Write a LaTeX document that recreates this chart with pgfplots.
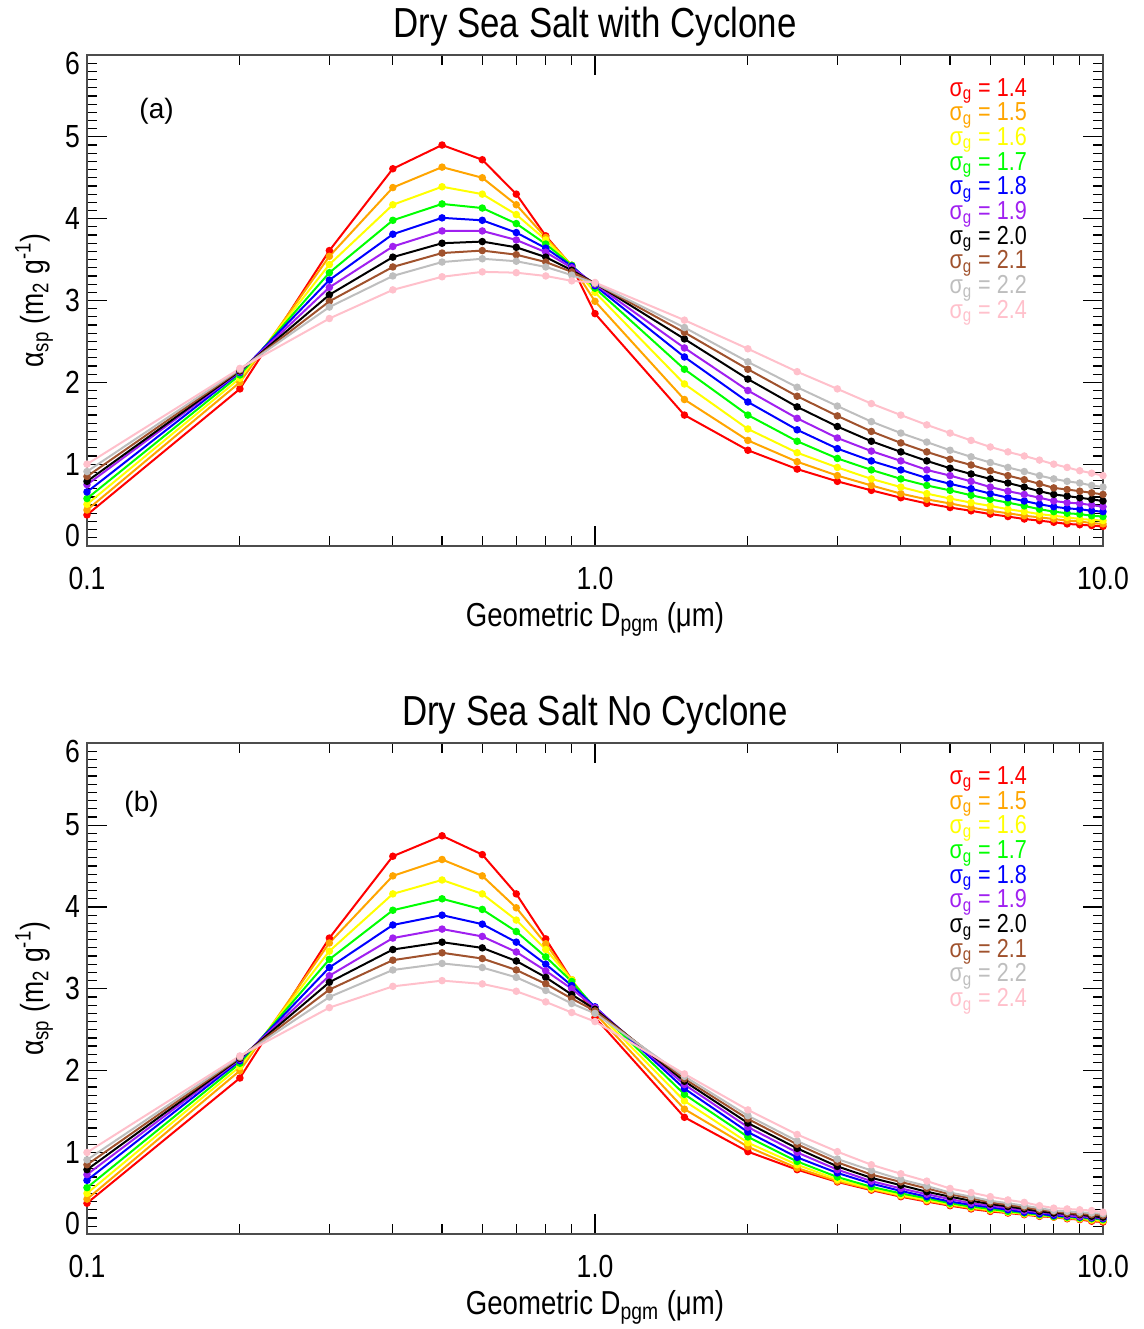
\documentclass[border=0pt]{standalone}
\usepackage{fontspec}
\setmainfont{Liberation Sans}[FakeStretch=0.83]
\newfontfamily\plainfont{Liberation Sans}
\usepackage{pgfplots}
\usepackage{pgfplotstable}
\pgfplotsset{compat=1.18}

\definecolor{c14}{RGB}{255,0,0}
\definecolor{c15}{RGB}{255,165,0}
\definecolor{c16}{RGB}{255,255,0}
\definecolor{c17}{RGB}{0,255,0}
\definecolor{c18}{RGB}{0,0,255}
\definecolor{c19}{RGB}{160,32,240}
\definecolor{c20}{RGB}{0,0,0}
\definecolor{c21}{RGB}{160,82,45}
\definecolor{c22}{RGB}{190,190,190}
\definecolor{c24}{RGB}{255,192,203}

\pgfplotstableread{
x    s14  s15  s16  s17  s18  s19  s20  s21  s22  s24
0.1  0.38 0.44 0.51 0.58 0.66 0.75 0.79 0.85 0.91 1.00
0.2  1.92 2.00 2.05 2.09 2.12 2.13 2.14 2.15 2.16 2.17
0.3  3.61 3.54 3.44 3.34 3.25 3.16 3.07 2.99 2.92 2.78
0.4  4.61 4.38 4.17 3.98 3.81 3.66 3.53 3.41 3.30 3.13
0.5  4.90 4.63 4.39 4.18 4.01 3.85 3.70 3.58 3.47 3.29
0.6  4.72 4.50 4.30 4.13 3.98 3.85 3.72 3.61 3.51 3.35
0.7  4.30 4.17 4.05 3.94 3.83 3.74 3.65 3.56 3.48 3.34
0.8  3.79 3.77 3.74 3.69 3.64 3.59 3.53 3.47 3.41 3.30
0.9  3.42 3.43 3.43 3.43 3.42 3.40 3.37 3.35 3.31 3.24
1.0  2.84 2.99 3.10 3.15 3.18 3.20 3.21 3.21 3.21 3.22
1.5  1.60 1.79 1.98 2.16 2.31 2.42 2.53 2.61 2.67 2.76
2.0  1.17 1.29 1.43 1.60 1.76 1.90 2.04 2.16 2.25 2.41
2.5  0.94 1.03 1.14 1.28 1.42 1.56 1.70 1.83 1.94 2.13
3.0  0.79 0.86 0.96 1.07 1.19 1.32 1.46 1.59 1.71 1.92
3.5  0.68 0.74 0.82 0.93 1.04 1.16 1.28 1.40 1.52 1.74
4.0  0.59 0.64 0.72 0.82 0.93 1.04 1.15 1.26 1.38 1.60
4.5  0.52 0.57 0.64 0.74 0.83 0.93 1.04 1.15 1.27 1.48
5.0  0.47 0.52 0.58 0.68 0.76 0.86 0.95 1.06 1.17 1.38
5.5  0.43 0.47 0.53 0.62 0.70 0.79 0.88 0.99 1.09 1.29
6.0  0.39 0.43 0.49 0.57 0.64 0.72 0.82 0.92 1.02 1.21
6.5  0.36 0.40 0.45 0.53 0.59 0.67 0.77 0.86 0.96 1.15
7.0  0.33 0.37 0.42 0.49 0.55 0.63 0.72 0.81 0.91 1.10
7.5  0.31 0.35 0.39 0.45 0.51 0.59 0.67 0.76 0.86 1.05
8.0  0.29 0.33 0.37 0.42 0.48 0.55 0.63 0.71 0.82 1.00
8.5  0.27 0.31 0.35 0.40 0.46 0.53 0.61 0.69 0.79 0.96
9.0  0.26 0.30 0.33 0.39 0.45 0.52 0.59 0.67 0.77 0.92
9.5  0.25 0.28 0.32 0.37 0.43 0.50 0.57 0.65 0.74 0.89
10.0 0.24 0.27 0.31 0.36 0.42 0.48 0.55 0.63 0.72 0.86
}\topdata

\pgfplotstableread{
x    s14  s15  s16  s17  s18  s19  s20  s21  s22  s24
0.1  0.38 0.43 0.50 0.57 0.66 0.73 0.79 0.85 0.91 1.00
0.2  1.91 2.00 2.05 2.09 2.12 2.14 2.15 2.16 2.17 2.18
0.3  3.62 3.56 3.46 3.36 3.26 3.16 3.08 2.99 2.90 2.77
0.4  4.62 4.38 4.16 3.96 3.78 3.62 3.48 3.35 3.23 3.03
0.5  4.87 4.58 4.33 4.10 3.90 3.73 3.57 3.44 3.31 3.10
0.6  4.64 4.38 4.16 3.97 3.79 3.64 3.50 3.37 3.26 3.06
0.7  4.16 3.99 3.84 3.70 3.57 3.45 3.34 3.23 3.14 2.97
0.8  3.61 3.55 3.48 3.39 3.30 3.22 3.14 3.06 2.98 2.84
0.9  3.11 3.11 3.11 3.09 3.04 3.00 2.93 2.88 2.82 2.71
1.0  2.65 2.70 2.74 2.77 2.78 2.77 2.75 2.73 2.70 2.60
1.5  1.43 1.53 1.63 1.71 1.78 1.83 1.87 1.90 1.93 1.96
2.0  1.01 1.07 1.12 1.19 1.25 1.31 1.36 1.41 1.45 1.52
2.5  0.79 0.81 0.85 0.89 0.94 1.00 1.05 1.10 1.14 1.22
3.0  0.64 0.65 0.67 0.70 0.75 0.79 0.83 0.88 0.92 1.01
3.5  0.54 0.55 0.56 0.58 0.62 0.65 0.69 0.73 0.78 0.85
4.0  0.46 0.47 0.48 0.50 0.53 0.56 0.60 0.64 0.67 0.74
4.5  0.40 0.41 0.42 0.44 0.46 0.49 0.52 0.56 0.59 0.65
5.0  0.35 0.36 0.37 0.38 0.40 0.43 0.46 0.49 0.51 0.56
5.5  0.31 0.32 0.33 0.34 0.36 0.38 0.41 0.44 0.46 0.51
6.0  0.28 0.29 0.30 0.31 0.33 0.35 0.37 0.39 0.41 0.46
6.5  0.26 0.27 0.27 0.28 0.30 0.32 0.34 0.36 0.38 0.42
7.0  0.24 0.25 0.25 0.26 0.27 0.29 0.31 0.33 0.35 0.39
7.5  0.22 0.23 0.23 0.24 0.25 0.27 0.28 0.30 0.32 0.35
8.0  0.21 0.21 0.22 0.22 0.23 0.25 0.26 0.28 0.29 0.32
8.5  0.19 0.20 0.20 0.21 0.22 0.23 0.25 0.26 0.28 0.31
9.0  0.18 0.19 0.19 0.20 0.21 0.22 0.24 0.25 0.27 0.30
9.5  0.16 0.17 0.18 0.19 0.20 0.21 0.22 0.24 0.26 0.29
10.0 0.15 0.16 0.17 0.18 0.19 0.20 0.21 0.23 0.25 0.27
}\botdata

\tikzset{leg/.style={anchor=base west, font=\fontsize{13}{15}\selectfont}}

\begin{document}
\begin{tikzpicture}
\path[use as bounding box] (-43.5pt,-391.5pt) rectangle (528.5pt,273pt);

\begin{axis}[
    at={(0pt,0pt)}, anchor=south west,
    width=508pt, height=245.5pt, scale only axis,
    xmode=log, xmin=0.1, xmax=10, ymin=0, ymax=6,
    xtick={0.1,1,10}, xticklabels={0.1,1.0,10.0},
    minor xtick={0.2,0.3,0.4,0.5,0.6,0.7,0.8,0.9,2,3,4,5,6,7,8,9},
    ytick={0,1,2,3,4,5,6}, yticklabels={\raisebox{-0.25pt}[0pt][0pt]{0},1,2,3,4,5,\raisebox{-9.75pt}[0pt][0pt]{6}}, minor y tick num=9,
    tick align=inside, major tick length=10pt, minor tick length=5pt,
    every tick/.style={black, line width=0.6pt},
    axis line style={black!70, line width=0.9pt},
    ticklabel style={font=\fontsize{16}{19}\selectfont},
    xticklabel style={anchor=base, yshift=-21.7pt},
    xlabel={Geometric D\textsubscript{pgm} (μm)},
    xlabel style={at={(axis description cs:0.5,-0.163)}, anchor=base, font=\fontsize{16.6}{19}\selectfont},
    ylabel={α\textsubscript{sp} (m\textsubscript{2} g\textsuperscript{-1})},
    ylabel style={at={(axis description cs:-0.0431,0.5)}, anchor=base, font=\fontsize{16}{19}\selectfont},
    title={Dry Sea Salt with Cyclone},
    title style={at={(axis description cs:0.5,1.0122)}, anchor=base, font=\fontsize{21}{25}\selectfont},
    every axis plot/.append style={line width=1pt, mark=*, mark size=1.35pt},
]
  \addplot[color=c14] table[x=x,y=s14]{\topdata};
  \addplot[color=c15] table[x=x,y=s15]{\topdata};
  \addplot[color=c16] table[x=x,y=s16]{\topdata};
  \addplot[color=c17] table[x=x,y=s17]{\topdata};
  \addplot[color=c18] table[x=x,y=s18]{\topdata};
  \addplot[color=c19] table[x=x,y=s19]{\topdata};
  \addplot[color=c20] table[x=x,y=s20]{\topdata};
  \addplot[color=c21] table[x=x,y=s21]{\topdata};
  \addplot[color=c22] table[x=x,y=s22]{\topdata};
  \addplot[color=c24] table[x=x,y=s24]{\topdata};
  \node[leg, text=c14] at (rel axis cs:0.842,0.9165) {σ\textsubscript{g} = 1.4};
  \node[leg, text=c15] at (rel axis cs:0.842,0.8662) {σ\textsubscript{g} = 1.5};
  \node[leg, text=c16] at (rel axis cs:0.842,0.8159) {σ\textsubscript{g} = 1.6};
  \node[leg, text=c17] at (rel axis cs:0.842,0.7656) {σ\textsubscript{g} = 1.7};
  \node[leg, text=c18] at (rel axis cs:0.842,0.7153) {σ\textsubscript{g} = 1.8};
  \node[leg, text=c19] at (rel axis cs:0.842,0.6650) {σ\textsubscript{g} = 1.9};
  \node[leg, text=c20] at (rel axis cs:0.842,0.6147) {σ\textsubscript{g} = 2.0};
  \node[leg, text=c21] at (rel axis cs:0.842,0.5644) {σ\textsubscript{g} = 2.1};
  \node[leg, text=c22] at (rel axis cs:0.842,0.5141) {σ\textsubscript{g} = 2.2};
  \node[leg, text=c24] at (rel axis cs:0.842,0.4638) {σ\textsubscript{g} = 2.4};
  \node[anchor=base west, font={\fontsize{14}{17}\plainfont}] at (rel axis cs:0.0447,0.871) {(a)};
\end{axis}

\begin{axis}[
    at={(0pt,-344.15pt)}, anchor=south west,
    width=508pt, height=245.5pt, scale only axis,
    xmode=log, xmin=0.1, xmax=10, ymin=0, ymax=6,
    xtick={0.1,1,10}, xticklabels={0.1,1.0,10.0},
    minor xtick={0.2,0.3,0.4,0.5,0.6,0.7,0.8,0.9,2,3,4,5,6,7,8,9},
    ytick={0,1,2,3,4,5,6}, yticklabels={\raisebox{-0.25pt}[0pt][0pt]{0},1,2,3,4,5,\raisebox{-9.75pt}[0pt][0pt]{6}}, minor y tick num=9,
    tick align=inside, major tick length=10pt, minor tick length=5pt,
    every tick/.style={black, line width=0.6pt},
    axis line style={black!70, line width=0.9pt},
    ticklabel style={font=\fontsize{16}{19}\selectfont},
    xticklabel style={anchor=base, yshift=-21.7pt},
    xlabel={Geometric D\textsubscript{pgm} (μm)},
    xlabel style={at={(axis description cs:0.5,-0.163)}, anchor=base, font=\fontsize{16.6}{19}\selectfont},
    ylabel={α\textsubscript{sp} (m\textsubscript{2} g\textsuperscript{-1})},
    ylabel style={at={(axis description cs:-0.0431,0.5)}, anchor=base, font=\fontsize{16}{19}\selectfont},
    title={Dry Sea Salt No Cyclone},
    title style={at={(axis description cs:0.5,1.0122)}, anchor=base, font=\fontsize{21}{25}\selectfont},
    every axis plot/.append style={line width=1pt, mark=*, mark size=1.35pt},
]
  \addplot[color=c14] table[x=x,y=s14]{\botdata};
  \addplot[color=c15] table[x=x,y=s15]{\botdata};
  \addplot[color=c16] table[x=x,y=s16]{\botdata};
  \addplot[color=c17] table[x=x,y=s17]{\botdata};
  \addplot[color=c18] table[x=x,y=s18]{\botdata};
  \addplot[color=c19] table[x=x,y=s19]{\botdata};
  \addplot[color=c20] table[x=x,y=s20]{\botdata};
  \addplot[color=c21] table[x=x,y=s21]{\botdata};
  \addplot[color=c22] table[x=x,y=s22]{\botdata};
  \addplot[color=c24] table[x=x,y=s24]{\botdata};
  \node[leg, text=c14] at (rel axis cs:0.842,0.9165) {σ\textsubscript{g} = 1.4};
  \node[leg, text=c15] at (rel axis cs:0.842,0.8662) {σ\textsubscript{g} = 1.5};
  \node[leg, text=c16] at (rel axis cs:0.842,0.8159) {σ\textsubscript{g} = 1.6};
  \node[leg, text=c17] at (rel axis cs:0.842,0.7656) {σ\textsubscript{g} = 1.7};
  \node[leg, text=c18] at (rel axis cs:0.842,0.7153) {σ\textsubscript{g} = 1.8};
  \node[leg, text=c19] at (rel axis cs:0.842,0.6650) {σ\textsubscript{g} = 1.9};
  \node[leg, text=c20] at (rel axis cs:0.842,0.6147) {σ\textsubscript{g} = 2.0};
  \node[leg, text=c21] at (rel axis cs:0.842,0.5644) {σ\textsubscript{g} = 2.1};
  \node[leg, text=c22] at (rel axis cs:0.842,0.5141) {σ\textsubscript{g} = 2.2};
  \node[leg, text=c24] at (rel axis cs:0.842,0.4638) {σ\textsubscript{g} = 2.4};
  \node[anchor=base west, font={\fontsize{14}{17}\plainfont}] at (rel axis cs:0.0299,0.861) {(b)};
\end{axis}
\end{tikzpicture}
\end{document}
